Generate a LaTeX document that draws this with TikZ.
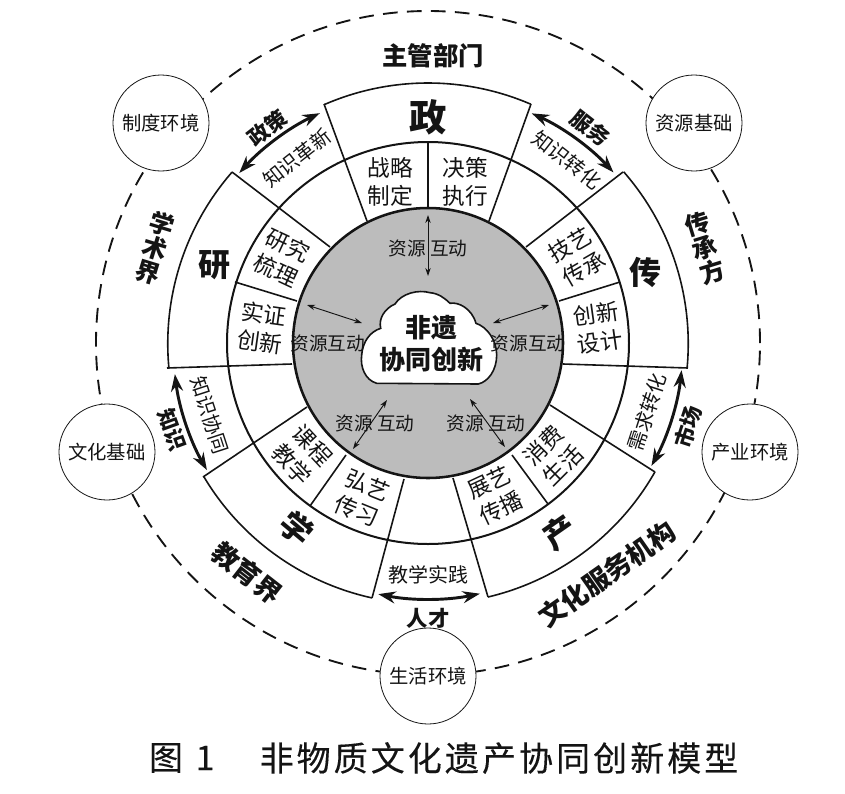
\documentclass[tikz,border=0pt]{standalone}
\usepackage{fontspec}
\setmainfont{Noto Sans CJK SC}
\newfontfamily\capfont[LetterSpace=9,FakeBold=.25]{Noto Sans CJK SC}
\usetikzlibrary{arrows.meta}
\definecolor{ringgray}{HTML}{BCBCBC}
\definecolor{ink}{HTML}{141414}
\newcommand{\fs}[1]{\fontsize{#1}{21pt}\selectfont}
\tikzset{
  x=.75pt,y=.75pt,
  every node/.style={inner sep=0pt,text=ink},
  sectorline/.style={draw=ink,line width=1.2pt},
  midline/.style={draw=ink,line width=1.5pt},
  envcircle/.style={circle,draw=ink,fill=white,line width=.6pt,minimum size=72pt,font=\fs{14.5}},
  orbit/.style={draw=ink,line width=1.4pt,dash pattern=on 11pt off 7pt},
  flow/.style={draw=ink,line width=2.2pt,{Stealth[length=13pt,width=9pt]}-{Stealth[length=13pt,width=9pt]}},
  res/.style={draw=ink,line width=.7pt,{Stealth[length=6pt,width=4pt]}-{Stealth[length=6pt,width=4pt]}},
  innerlab/.style={font=\fs{17},align=center},
  flowlab/.style={font=\fs{15}},
  reslab/.style={font=\fs{14}},
  boldflow/.style={font=\fs{16}\bfseries},
  actor/.style={font=\fs{20}\bfseries},
  hub/.style={font=\fs{19.5}\bfseries},
}
\begin{document}
\begin{tikzpicture}
\useasboundingbox (-428,-450) rectangle (417,343);
% orbit
\draw[orbit] (0,0) circle[radius=332];
% outer arcs of the five sectors
\draw[sectorline] (113.5:260) arc[start angle=113.5,end angle=66.7,radius=260];
\draw[sectorline] (138.9:260) arc[start angle=138.9,end angle=185.5,radius=261];
\draw[sectorline] (41.2:260) arc[start angle=41.2,end angle=-5.5,radius=261];
\draw[sectorline] (210.8:261) arc[start angle=210.8,end angle=257.6,radius=261];
\draw[sectorline] (-76.7:261) arc[start angle=-76.7,end angle=-29.6,radius=261];
% gray core and middle ring
\draw[midline] (0,0) circle[radius=201];
\draw[draw=ink,line width=1.9pt,fill=ringgray] (0,0) circle[radius=135];
% radial lines
\draw[sectorline] (-104,239) -- (-61,122);
\draw[sectorline] (103,239) -- (61,122);
\draw[sectorline] (0,201) -- (0,135);
\draw[sectorline] (-196,171) -- (-98,96);
\draw[sectorline] (-261,-25) -- (-136,-21);
\draw[sectorline] (-193,61) -- (-131,42);
\draw[sectorline] (195,171) -- (98,96);
\draw[sectorline] (260,-25) -- (135,-21);
\draw[sectorline] (131,42) -- (192,61);
\draw[sectorline] (-225,-134) -- (-121,-64);
\draw[sectorline] (-56,-255) -- (-24,-136);
\draw[sectorline] (-118,-163) -- (-82,-112);
\draw[sectorline] (60,-254) -- (25,-135);
\draw[sectorline] (227,-129) -- (122,-62);
\draw[sectorline] (84,-112) -- (120,-161);
% cloud
\draw[draw=ink,line width=1.2pt,fill=white]
  (-51.3,-40.3) .. controls (-63,-37) and (-68,-23.7) .. (-66.3,-12)
  .. controls (-65.3,1.3) and (-58,11.3) .. (-47.3,14.7)
  .. controls (-49.7,24.7) and (-43,34.7) .. (-33,39)
  .. controls (-26.3,49.7) and (-9.7,53.7) .. (2,50.3)
  .. controls (10.3,49.7) and (17,44.7) .. (22,39.7)
  .. controls (30.3,41.3) and (43.7,34.7) .. (48,19.7)
  .. controls (58.7,16.3) and (68.7,3) .. (68.7,-12)
  .. controls (68.7,-27) and (60.3,-38.7) .. (50.3,-41) -- cycle;
% flow arrows along the rim
\draw[flow] (115.2:254) arc[start angle=115.2,end angle=138,radius=254];
\draw[flow] (65.7:252) arc[start angle=65.7,end angle=42.6,radius=252];
\draw[flow] (187:255) arc[start angle=187,end angle=209.9,radius=255];
\draw[flow] (-6.1:255) arc[start angle=-6.1,end angle=-28.8,radius=255];
\draw[flow] (258.8:256) arc[start angle=258.8,end angle=281.7,radius=256];
% resource arrows
\coordinate (rtA) at (0,128); \coordinate (rtB) at (0,67);
\coordinate (rlA) at (-121,38); \coordinate (rlB) at (-66,20);
\coordinate (rrA) at (65,20); \coordinate (rrB) at (121,38);
\coordinate (rblA) at (-41,-57); \coordinate (rblB) at (-75,-106);
\coordinate (rbrA) at (42,-56); \coordinate (rbrB) at (77,-104);
\draw[res] (rtA) -- (rtB);
\draw[res] (rlA) -- (rlB);
\draw[res] (rrA) -- (rrB);
\draw[res] (rblA) -- (rblB);
\draw[res] (rbrA) -- (rbrB);
% environment circles
\node[envcircle] (envA) at (-267,220) {制度环境};
\node[envcircle] (envB) at (266,220) {资源基础};
\node[envcircle] (envC) at (-321,-109) {文化基础};
\node[envcircle] (envD) at (322,-109) {产业环境};
\node[envcircle] (envE) at (0,-333) {生活环境};
% actors
\node[font=\fs{19}\bfseries] (zhu) at (5,287) {主管部门};
\node[font=\fs{28}\bfseries] (zheng) at (0,226) {政};
\node[font=\fs{24}\bfseries] (yan) at (-213,78) {研};
\node[font=\fs{24}\bfseries] (chuan) at (217,71) {传};
\node[font=\fs{24}\bfseries,rotate=-40] (xue) at (-131,-185) {学};
\node[font=\fs{24}\bfseries,rotate=35] (chan) at (132,-189) {产};
\node[font=\fontsize{18.5}{19pt}\selectfont\bfseries,align=center,rotate=-17] (xsj) at (-273,95) {学\\术\\界};
\node[font=\fontsize{18.5}{19pt}\selectfont\bfseries,align=center,rotate=17] (ccf) at (277,95) {传\\承\\方};
\node[actor,rotate=-38] (jyj) at (-181,-230) {教育界};
\node[actor,rotate=35] (whfw) at (179,-231) {文化服务机构};
% inner ring labels
\node[innerlab] (n1) at (-38,161) {战略\\制定};
\node[innerlab] (n2) at (37,161) {决策\\执行};
\node[innerlab,rotate=-25] (n3) at (-146,85) {研究\\梳理};
\node[innerlab,rotate=-8] (n4) at (-166,15) {实证\\创新};
\node[innerlab,rotate=30] (n5) at (149,86) {技艺\\传承};
\node[innerlab,rotate=8] (n6) at (170,15) {创新\\设计};
\node[innerlab,rotate=-47] (n7) at (-126,-112) {课程\\教学};
\node[innerlab,rotate=-22] (n8) at (-66,-155) {弘艺\\传习};
\node[innerlab,rotate=25] (n9) at (67,-152) {展艺\\传播};
\node[innerlab,rotate=45] (n10) at (125,-112) {消费\\生活};
% flow labels
\node[flowlab,rotate=38] (f1) at (-131,185) {知识革新};
\node[boldflow,rotate=38] (f2) at (-161,215) {政策};
\node[boldflow,rotate=-38] (f3) at (162,215) {服务};
\node[flowlab,rotate=-38] (f4) at (139,183) {知识转化};
\node[flowlab,rotate=-72] (f5) at (-218,-72) {知识协同};
\node[boldflow,rotate=-70] (f6) at (-256,-87) {知识};
\node[flowlab,rotate=72] (f7) at (219,-69) {需求转化};
\node[boldflow,rotate=72] (f8) at (260,-84) {市场};
\node[flowlab] (f9) at (0,-232) {教学实践};
\node[boldflow] (f10) at (0,-275) {人才};
% resource labels
\node[reslab] (r1) at (0,95) {资源 互动};
\node[reslab] (r2) at (-100,0) {资源互动};
\node[reslab] (r3) at (100,0) {资源互动};
\node[reslab] (r4) at (-53,-80) {资源 互动};
\node[reslab] (r5) at (58,-80) {资源 互动};
% hub
\node[hub] (h1) at (3.7,15) {非遗};
\node[hub] (h2) at (3.7,-17) {协同创新};
% caption
\node[font=\fontsize{25.5}{30}\capfont] (c1) at (-262,-415) {图};
\node[font=\fontsize{25.5}{30}\capfont] (c2) at (-223,-415) {1};
\node[font=\fontsize{25.5}{30}\capfont] (c3) at (71,-415) {非物质文化遗产协同创新模型};
\end{tikzpicture}
\end{document}
